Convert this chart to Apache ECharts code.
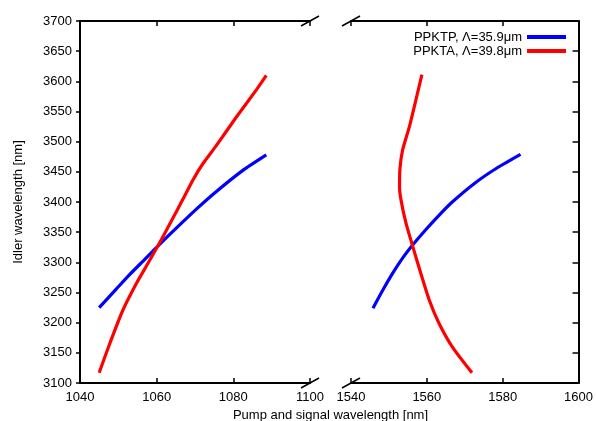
<!DOCTYPE html>
<html><head><meta charset="utf-8">
<script src="https://cdn.jsdelivr.net/npm/echarts@6/dist/echarts.min.js"></script>
<style>html,body{margin:0;padding:0;background:#fff}#c{width:596px;height:421px}</style>
</head><body><div id="c"></div>
<script>
// ---- data ----
const seriesNames = ['PPKTP, \u039B=35.9\u03BCm', 'PPKTA, \u039B=39.8\u03BCm'];
const pumpRange = [1040, 1100];
const signalRange = [1540, 1600];
const idlerRange = [3100, 3700];
// PPKTP: idler vs pump wavelength
const ppktpPump = [[1045,3225],[1049.5,3256],[1053,3280],[1056.9,3305],[1060.3,3327],[1066,3362],[1070.5,3389],[1075.5,3417],[1082.4,3452],[1088.6,3478]];
// PPKTA: idler vs pump wavelength
const ppktaPump = [[1045,3117],[1047.8,3166],[1051.2,3221],[1054.7,3265],[1057.7,3298],[1060.3,3327],[1063.8,3368],[1066.8,3404],[1069.5,3437],[1072,3463],[1075.5,3493],[1080.7,3540],[1085.9,3585],[1088.6,3610]];
// PPKTP: idler vs signal wavelength
const ppktpSignal = [[1545.8,3224],[1548.4,3254],[1551,3282],[1553.6,3307],[1556.3,3329],[1559.7,3354],[1563.2,3378],[1566.7,3400],[1572.8,3432],[1578.9,3458],[1584.7,3479]];
// PPKTA: idler vs signal wavelength
const ppktaSignal = [[1571.9,3117],[1566.7,3160],[1563.2,3199],[1560.6,3238],[1558.4,3282],[1556.3,3326],[1554.5,3365],[1553.2,3403],[1552.8,3425],[1552.9,3455],[1553.6,3486],[1555.4,3525],[1557.1,3569],[1558.7,3611]];

// ---- layout ----
const FONT = "'Liberation Sans', Arial, Helvetica, sans-serif";
const GA = {left: 80, top: 21, width: 230, height: 362};
const GB = {left: 351, top: 21, width: 230, height: 362};
const colors = ['#0000ff', '#ff0000'];
const lineAx = {show: true, lineStyle: {color: '#000', width: 2}};
const txt = {color: '#000', fontFamily: FONT, fontSize: 13};
const plain = v => String(v);

function xAx(gi, range, pos, labels) {
  return {
    type: 'value', gridIndex: gi, position: pos, min: range[0], max: range[1], interval: 20,
    axisLine: Object.assign({onZero: false}, lineAx),
    axisTick: {show: true, inside: true, length: 5, lineStyle: {color: '#000', width: 1.5}},
    axisLabel: Object.assign({show: labels, margin: 8, formatter: plain}, txt),
    splitLine: {show: false}
  };
}

const chart = echarts.init(document.getElementById('c'), null, {renderer: 'canvas'});

function breakMark(cx, cy) {
  return {type: 'line', silent: true,
    shape: {x1: cx - 9, y1: cy + 5, x2: cx + 9, y2: cy - 5},
    style: {stroke: '#000', lineWidth: 1.5}};
}
const breakX = [GA.left + GA.width, GB.left];
const breakY = [GA.top, GA.top + GA.height];
const marks = [];
breakX.forEach(bx => breakY.forEach(by => marks.push(breakMark(bx, by))));

const mk = (name, data, xi, yi, ci) => ({
  type: 'line', name: name, data: data, xAxisIndex: xi, yAxisIndex: yi,
  showSymbol: false, symbol: 'none', smooth: 0.2,
  lineStyle: {color: colors[ci], width: 3.2}, itemStyle: {color: colors[ci]},
  animation: false
});

chart.setOption({
  backgroundColor: '#fff',
  animation: false,
  grid: [GA, GB],
  xAxis: [
    xAx(0, pumpRange, 'bottom', true),
    xAx(0, pumpRange, 'top', false),
    xAx(1, signalRange, 'bottom', true),
    xAx(1, signalRange, 'top', false)
  ],
  yAxis: [
    {type: 'value', gridIndex: 0, position: 'left', min: idlerRange[0], max: idlerRange[1], interval: 50,
     axisLine: Object.assign({onZero: false}, lineAx),
     axisTick: {show: true, inside: false, length: 4, lineStyle: {color: '#000', width: 1.5}},
     axisLabel: Object.assign({margin: 8, formatter: plain}, txt),
     splitLine: {show: false},
     name: 'Idler wavelength [nm]', nameLocation: 'middle', nameGap: 55, nameRotate: 90,
     nameTextStyle: txt},
    {type: 'value', gridIndex: 1, position: 'right', min: idlerRange[0], max: idlerRange[1], interval: 50,
     axisLine: Object.assign({onZero: false}, lineAx),
     axisTick: {show: true, inside: true, length: 6, lineStyle: {color: '#000', width: 1.5}},
     axisLabel: {show: false}, splitLine: {show: false}}
  ],
  legend: {
    data: seriesNames, orient: 'vertical', right: 25, top: 25, align: 'right',
    icon: 'rect', itemWidth: 39, itemHeight: 4, itemGap: 0,
    textStyle: Object.assign({lineHeight: 14}, txt),
    selectedMode: false
  },
  graphic: marks.concat([{
    type: 'text', x: (GA.left + GB.left + GB.width) / 2, y: 409,
    style: {text: 'Pump and signal wavelength [nm]', fill: '#000', font: '13px ' + FONT, textAlign: 'center', textVerticalAlign: 'top'}
  }]),
  series: [
    mk(seriesNames[0], ppktpPump, 0, 0, 0),
    mk(seriesNames[1], ppktaPump, 0, 0, 1),
    mk(seriesNames[0], ppktpSignal, 2, 1, 0),
    mk(seriesNames[1], ppktaSignal, 2, 1, 1)
  ]
});
</script></body></html>
